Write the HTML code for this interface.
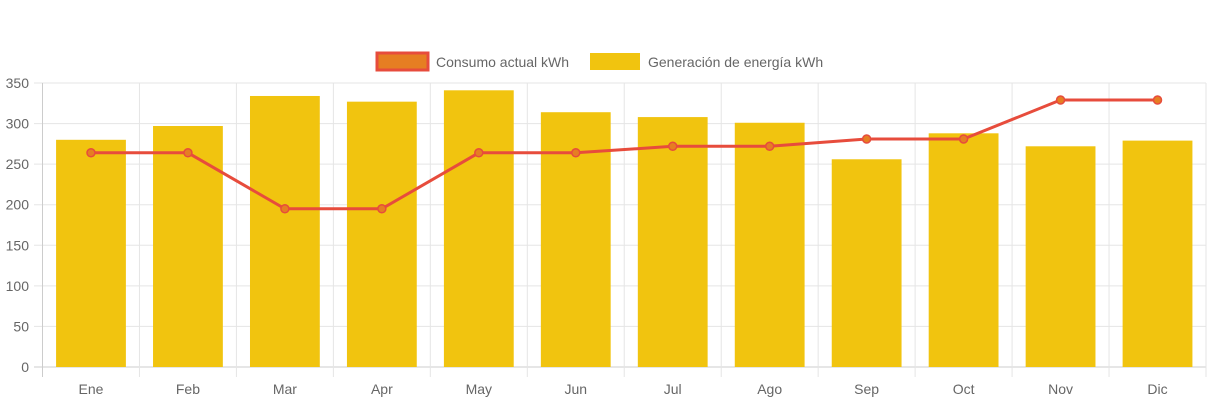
<!DOCTYPE html>
<html><head><meta charset="utf-8"><style>
body{margin:0;background:#fff;}
svg{display:block;font-family:"Liberation Sans",sans-serif;}
</style></head><body>
<svg id="c" width="1213" height="403"></svg>
<script>
const categories=["Ene","Feb","Mar","Apr","May","Jun","Jul","Ago","Sep","Oct","Nov","Dic"];
const generation=[280,297,334,327,341,314,308,301,256,288,272,279];
const consumption=[264,264,195,195,264,264,272,272,281,281,329,329];
const yTicks=[0,50,100,150,200,250,300,350];
const NS="http://www.w3.org/2000/svg";
const svg=document.getElementById('c');
const L=42.5,R=1206,T=83,B=367,YMAX=350;
const cw=(R-L)/categories.length;
const x=i=>L+cw*(i+0.5);
const y=v=>B-(v/YMAX)*(B-T);
function mk(t,a){const e=document.createElementNS(NS,t);for(const k in a)e.setAttribute(k,a[k]);svg.appendChild(e);return e;}
yTicks.forEach(v=>{
 const g=mk('line',{x1:34,x2:R,y1:y(v),y2:y(v),stroke:v===0?'#ccc':'#e5e5e5','stroke-width':1});
 
 
 const t=mk('text',{x:29,y:y(v)+5,'text-anchor':'end','font-size':14,fill:'#666'});t.textContent=v;
 
 
});
for(let i=0;i<=categories.length;i++){
 const g=mk('line',{x1:L+cw*i,x2:L+cw*i,y1:T,y2:B+10,stroke:i===0?'#ccc':'#e5e5e5','stroke-width':1});
 
 
}
categories.forEach((c,i)=>{
 const bw=cw*0.72;
 const b=mk('rect',{x:x(i)-bw/2,y:y(generation[i]),width:bw,height:B-y(generation[i]),fill:'#f1c40f'});
 
 
 const t=mk('text',{x:x(i),y:394,'text-anchor':'middle','font-size':14,fill:'#666'});t.textContent=c;
 
 
});
const p=mk('polyline',{points:consumption.map((v,i)=>x(i)+','+y(v)).join(' '),fill:'none',stroke:'#e74c3c','stroke-width':3});


consumption.forEach((v,i)=>{
 const d=mk('circle',{cx:x(i),cy:y(v),r:4,fill:'#e67e22',stroke:'#e74c3c','stroke-width':1.5});
 
 
});
// legend
const l1=mk('rect',{x:377,y:53,width:51,height:17,fill:'#e67e22',stroke:'#e74c3c','stroke-width':3});


const t1=mk('text',{x:436,y:67,'font-size':14,fill:'#666'});t1.textContent='Consumo actual kWh';


const l2=mk('rect',{x:590,y:53,width:50,height:17,fill:'#f1c40f'});


const t2=mk('text',{x:648,y:67,'font-size':14,fill:'#666'});t2.textContent='Generación de energía kWh';


</script>
</body></html>
